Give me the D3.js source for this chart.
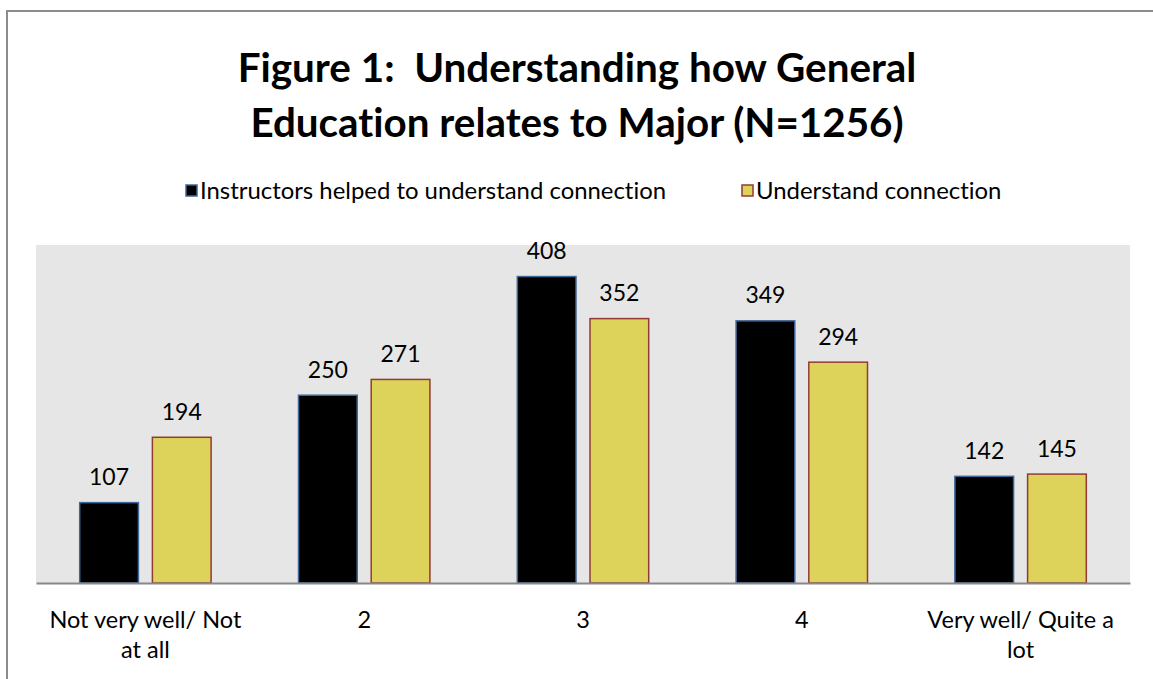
<!DOCTYPE html>
<html><head><meta charset="utf-8">
<script src="https://cdn.jsdelivr.net/npm/d3@7"></script>
<style>body{margin:0;background:#fff;} svg{display:block;font-family:Lato, "Liberation Sans", sans-serif;font-variant-ligatures:none;} text{white-space:pre;}</style>
</head><body>
<svg id="chart" width="1153" height="679"></svg>
<script>
const titleLines = ["Figure 1:  Understanding how General", "Education relates to Major (N=1256)"];
const categories = [["Not very well/ Not", "at all"], ["2"], ["3"], ["4"], ["Very well/ Quite a", "lot"]];
const seriesNames = ["Instructors helped to understand connection", "Understand connection"];
const instructors = [107, 250, 408, 349, 142];
const understand = [194, 271, 352, 294, 145];
const yMax = 450;

const fills = ["#000000", "#ddd35a"];
const strokes = ["#3f6797", "#943a36"];

const svg = d3.select("#chart");
const W = 1153, H = 679;

// outer frame
svg.append("rect").attr("x", 7).attr("y", 11).attr("width", W + 20).attr("height", H + 20)
  .attr("fill", "#fff").attr("stroke", "#8c8c8c").attr("stroke-width", 2);

// title
const title = svg.append("g");
titleLines.forEach((t, i) => {
  title.append("text").attr("x", 577).attr("y", 82 + i * 55)
    .attr("text-anchor", "middle").attr("font-size", 40.4).attr("font-weight", "bold")
    .attr("fill", "#000").text(t);
});

const plot = {left: 36, right: 1130, top: 245, bottom: 583};
svg.append("rect").attr("x", plot.left).attr("y", plot.top)
  .attr("width", plot.right - plot.left).attr("height", plot.bottom - plot.top)
  .attr("fill", "#e6e6e6");

const x0 = d3.scaleBand().domain(d3.range(categories.length)).range([plot.left, plot.right]).paddingInner(0).paddingOuter(0);
const x1 = d3.scaleBand().domain([0, 1]).range([x0.bandwidth() / 2 - 65.7, x0.bandwidth() / 2 + 65.7]).paddingInner(0.1926);
const y = d3.scaleLinear().domain([0, yMax]).range([plot.bottom, plot.top]);

const data = [instructors, understand];
data.forEach((vals, s) => {
  const g = svg.append("g");
  g.selectAll("rect").data(vals).join("rect")
    .attr("x", (d, i) => x0(i) + x1(s))
    .attr("y", d => y(d))
    .attr("width", x1.bandwidth())
    .attr("height", d => y(0) - y(d))
    .attr("fill", fills[s]).attr("stroke", strokes[s]).attr("stroke-width", 1.5);
  g.selectAll("text").data(vals).join("text")
    .attr("x", (d, i) => x0(i) + x1(s) + x1.bandwidth() / 2)
    .attr("y", d => y(d) - 17.5)
    .attr("text-anchor", "middle").attr("font-size", 23).attr("fill", "#000")
    .text(d => d);
});

// baseline axis
const xAxis = d3.axisBottom(x0).tickSize(0).tickFormat("");
const ax = svg.append("g").attr("transform", `translate(0,${plot.bottom})`).call(xAxis);
ax.select(".domain").attr("stroke", "#888").attr("stroke-width", 2);

// category labels
categories.forEach((lines, i) => {
  lines.forEach((l, j) => {
    svg.append("text").attr("x", x0(i) + x0.bandwidth() / 2).attr("y", 628 + j * 30)
      .attr("text-anchor", "middle").attr("font-size", 23.5).attr("fill", "#000").text(l);
  });
});

// legend
const legendX = [186, 742];
seriesNames.forEach((n, s) => {
  svg.append("rect").attr("x", legendX[s]).attr("y", 185).attr("width", 11).attr("height", 11)
    .attr("fill", fills[s]).attr("stroke", strokes[s]).attr("stroke-width", 1.5);
  svg.append("text").attr("x", legendX[s] + 14).attr("y", 199).attr("font-size", 23.9).attr("fill", "#000").text(n);
});
</script>
</body></html>
